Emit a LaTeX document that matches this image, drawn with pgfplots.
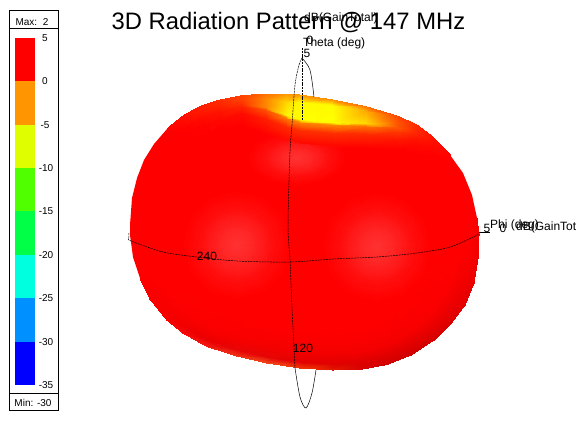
\documentclass[border=0pt]{standalone}
\usepackage{fontspec}
\setmainfont{Liberation Sans}
\usepackage{pgfplots}
\usepackage{pgfplotstable}
\pgfplotsset{compat=1.18}
\definecolor{b1}{HTML}{FF0000}
\definecolor{b2}{HTML}{FF9500}
\definecolor{b3}{HTML}{DFFF00}
\definecolor{b4}{HTML}{50FF00}
\definecolor{b5}{HTML}{00FF46}
\definecolor{b6}{HTML}{00FFDF}
\definecolor{b7}{HTML}{0090FF}
\definecolor{b8}{HTML}{0000FF}
% spot: cos sin ring g
\pgfplotstableread{
c s f g
1 0 0 50
1 0 .33 36
1 0 .66 14
1 0 1 0
.866 .5 0 50
.866 .5 .33 36
.866 .5 .66 14
.866 .5 1 0
.5 .866 0 50
.5 .866 .33 36
.5 .866 .66 14
.5 .866 1 0
0 1 0 50
0 1 .33 36
0 1 .66 14
0 1 1 0
-.5 .866 0 50
-.5 .866 .33 36
-.5 .866 .66 14
-.5 .866 1 0
-.866 .5 0 50
-.866 .5 .33 36
-.866 .5 .66 14
-.866 .5 1 0
-1 0 0 50
-1 0 .33 36
-1 0 .66 14
-1 0 1 0
-.866 -.5 0 50
-.866 -.5 .33 36
-.866 -.5 .66 14
-.866 -.5 1 0
-.5 -.866 0 50
-.5 -.866 .33 36
-.5 -.866 .66 14
-.5 -.866 1 0
0 -1 0 50
0 -1 .33 36
0 -1 .66 14
0 -1 1 0
.5 -.866 0 50
.5 -.866 .33 36
.5 -.866 .66 14
.5 -.866 1 0
.866 -.5 0 50
.866 -.5 .33 36
.866 -.5 .66 14
.866 -.5 1 0
1 0 0 50
1 0 .33 36
1 0 .66 14
1 0 1 0
}\spottable
% rim: outline point, ring fraction, colour
\pgfplotstableread{
px py f r g b
477 218 1 250 0 0
477 218 .955 255 0 0
477 218 .875 255 0 0
477 218 .72 255 0 0
479 235 1 245 0 0
479 235 .955 252 0 0
479 235 .875 255 0 0
479 235 .72 255 0 0
478 258 1 240 0 0
478 258 .955 250 0 0
478 258 .875 255 0 0
478 258 .72 255 0 0
474 283 1 232 0 0
474 283 .955 240 0 0
474 283 .875 252 0 0
474 283 .72 255 0 0
465 305 1 225 0 0
465 305 .955 235 0 0
465 305 .875 250 0 0
465 305 .72 255 0 0
451 323.5 1 218 0 0
451 323.5 .955 230 0 0
451 323.5 .875 250 0 0
451 323.5 .72 255 0 0
434 340 1 212 0 0
434 340 .955 225 0 0
434 340 .875 248 0 0
434 340 .72 255 0 0
411 355 1 208 0 0
411 355 .955 222 0 0
411 355 .875 245 0 0
411 355 .72 255 0 0
387 364.5 1 210 0 0
387 364.5 .955 220 0 0
387 364.5 .875 245 0 0
387 364.5 .72 255 0 0
360 369.5 1 215 5 0
360 369.5 .955 222 0 0
360 369.5 .875 245 0 0
360 369.5 .72 255 0 0
333 370 1 225 25 0
333 370 .955 225 0 0
333 370 .875 245 0 0
333 370 .72 255 0 0
300 368 1 238 55 5
300 368 .955 228 0 0
300 368 .875 245 0 0
300 368 .72 255 0 0
267 363 1 240 70 25
267 363 .955 230 5 5
267 363 .875 245 0 0
267 363 .72 255 0 0
237 356 1 240 50 25
237 356 .955 232 5 5
237 356 .875 248 0 0
237 356 .72 255 0 0
207 346.5 1 240 30 20
207 346.5 .955 235 0 0
207 346.5 .875 250 0 0
207 346.5 .72 255 0 0
183 333 1 245 10 10
183 333 .955 240 0 0
183 333 .875 252 0 0
183 333 .72 255 0 0
167 320 1 250 0 0
167 320 .955 245 0 0
167 320 .875 253 0 0
167 320 .72 255 0 0
150 299 1 252 0 0
150 299 .955 250 0 0
150 299 .875 255 0 0
150 299 .72 255 0 0
140 278 1 255 0 0
140 278 .955 255 0 0
140 278 .875 255 0 0
140 278 .72 255 0 0
}\rimtable
% cap: x y g
\pgfplotstableread{
x y g
167 129 5
167 131 3
167 133 0
167 135 0
167 139 0
167 146 0
183 116 15
183 120 12
183 124 8
183 127 5
183 133 0
183 142 0
200 106.5 30
200 112 25
200 116 18
200 120 10
200 127 3
200 138 0
220 100 45
220 105 38
220 108 30
220 112 20
220 120 8
220 130 0
243 95.5 70
243 100 65
243 103 55
243 107 35
243 114 12
243 126 0
267 94 115
267 99 135
267 108 140
267 111 80
267 120 30
267 133 5
287 94 150
287 103 215
287 116 245
287 119 120
287 128 40
287 140 10
300 95 150
300 103 250
300 120 255
300 123 125
300 131 45
300 143 10
333 100 140
333 106 250
333 123 255
333 126 130
333 134 45
333 146 8
367 107 110
367 112 170
367 124 215
367 127 110
367 135 40
367 147 5
397 116 70
397 122 85
397 128 85
397 132 55
397 140 22
397 150 0
417 125 40
417 129 40
417 134 35
417 138 22
417 145 8
417 155 0
433 137 15
433 140 15
433 144 10
433 148 5
433 154 0
433 162 0
450 155 0
450 157 0
450 160 0
450 163 0
450 168 0
450 175 0
}\captable
\begin{document}
\begin{tikzpicture}
\begin{axis}[scale only axis,width=578pt,height=445pt,xmin=0,xmax=578,ymin=0,ymax=445,y dir=reverse,hide axis,clip=false]
% body
\addplot[fill=red,draw=none] coordinates {(130,225)(132,198)(137,178)(144,160)(154,144)(167,129)(183,116)(200,106.5)(220,100)(243,95.5)(267,94)(287,94)(300,95)(333,100)(367,107)(397,116)(417,125)(433,137)(450,155)(463,173)(472,195)(477,218)(479,235)(478,258)(474,283)(465,305)(451,323.5)(434,340)(411,355)(387,364.5)(360,369.5)(333,370)(300,368)(267,363)(237,356)(207,346.5)(183,333)(167,320)(150,299)(140,278)(133,257)(130,235)} --cycle;
% lighter spots
\addplot[surf,shader=interp,mesh/rows=13,mesh/color input=explicit mathparse,point meta={symbolic={1,\thisrow{g}/255,\thisrow{g}/255}}] table[x expr={237+55*\thisrow{f}*\thisrow{c}},y expr={245+55*\thisrow{f}*\thisrow{s}}] {\spottable};
\addplot[surf,shader=interp,mesh/rows=13,mesh/color input=explicit mathparse,point meta={symbolic={1,\thisrow{g}/255,\thisrow{g}/255}}] table[x expr={377+55*\thisrow{f}*\thisrow{c}},y expr={247+55*\thisrow{f}*\thisrow{s}}] {\spottable};
\addplot[surf,shader=interp,mesh/rows=13,mesh/color input=explicit mathparse,point meta={symbolic={1,\thisrow{g}/255,\thisrow{g}/255}}] table[x expr={297+50*\thisrow{f}*\thisrow{c}},y expr={158+28*\thisrow{f}*\thisrow{s}}] {\spottable};
% lower rim
\addplot[surf,shader=interp,mesh/rows=19,mesh/color input=explicit mathparse,point meta={symbolic={\thisrow{r}/255,\thisrow{g}/255,\thisrow{b}/255}}] table[x expr={305+\thisrow{f}*(\thisrow{px}-305)},y expr={232+\thisrow{f}*(\thisrow{py}-232)}] {\rimtable};
% top cap
\addplot[surf,shader=interp,mesh/rows=14,mesh/color input=explicit mathparse,point meta={symbolic={1,\thisrow{g}/255,0}}] table[x=x,y=y] {\captable};
% phi circle
\addplot[black,smooth,line width=.5pt,dash pattern=on 2pt off .8pt] coordinates {(129,233)(129,238)(131,241)(163,252)(197,257)(237,261)(290,262)(333,259)(377,257)(417,253)(450,247)(477,235)(479,232)};
\addplot[black,line width=.5pt] coordinates {(479,232)(490,232)};
% theta circle
\addplot[black,smooth,line width=.5pt,dash pattern=on 2pt off .8pt] coordinates {(302,58)(299,65)(295,85)(292,125)(290,152)(288,225)(290,260)(292,308)(295,368)};
\addplot[black,line width=.5pt,dash pattern=on 2pt off .8pt] coordinates {(302,48)(302,120)};
\addplot[black,smooth,line width=.5pt] coordinates {(302,58)(310,70)(314,97)};
\addplot[black,smooth,line width=.5pt] coordinates {(295,368)(300,397)(306,408)(312,393)(316,370)};
% colour bar
\addplot[white,fill=white,draw=black,line width=.9pt] coordinates {(9.5,10)(58.5,10)(58.5,410)(9.5,410)} --cycle;
\addplot[black,line width=.9pt] coordinates {(9.5,28)(58.5,28)};
\addplot[black,line width=.9pt] coordinates {(9.5,393)(58.5,393)};
\addplot[fill=b1,draw=none] coordinates {(15,38)(35,38)(35,81)(15,81)} --cycle;
\addplot[fill=b2,draw=none] coordinates {(15,81)(35,81)(35,125)(15,125)} --cycle;
\addplot[fill=b3,draw=none] coordinates {(15,125)(35,125)(35,168)(15,168)} --cycle;
\addplot[fill=b4,draw=none] coordinates {(15,168)(35,168)(35,211)(15,211)} --cycle;
\addplot[fill=b5,draw=none] coordinates {(15,211)(35,211)(35,255)(15,255)} --cycle;
\addplot[fill=b6,draw=none] coordinates {(15,255)(35,255)(35,298)(15,298)} --cycle;
\addplot[fill=b7,draw=none] coordinates {(15,298)(35,298)(35,342)(15,342)} --cycle;
\addplot[fill=b8,draw=none] coordinates {(15,342)(35,342)(35,385)(15,385)} --cycle;
\tikzset{lb/.style={inner sep=0pt,font=\fontsize{10}{11}\selectfont},tx/.style={inner sep=0pt,font=\fontsize{12}{13}\selectfont}}
\node[lb] at (axis cs:45,38) {5};
\node[lb] at (axis cs:45,81) {0};
\node[lb] at (axis cs:45,125) {-5};
\node[lb] at (axis cs:46,168) {-10};
\node[lb] at (axis cs:46,211) {-15};
\node[lb] at (axis cs:46,255) {-20};
\node[lb] at (axis cs:46,298) {-25};
\node[lb] at (axis cs:46,342) {-30};
\node[lb] at (axis cs:46,385) {-35};
\node[lb] at (axis cs:32,22) {Max:\ \ 2};
\node[lb] at (axis cs:33,403) {Min: -30};
\node[inner sep=0pt,font=\fontsize{23.8}{26}\selectfont] at (axis cs:288.5,23) {3D Radiation Pattern @ 147 MHz};
\node[tx,anchor=west] at (axis cs:304,18) {dB(GainTotal)};
\node[tx] at (axis cs:310,40) {0};
\node[tx,anchor=west] at (axis cs:303,43) {Theta (deg)};
\node[tx] at (axis cs:307,53) {5};
\node[tx] at (axis cs:207,256) {240};
\node[tx] at (axis cs:303,348) {120};
\node[tx] at (axis cs:487,228) {5};
\node[tx,anchor=west] at (axis cs:490,225) {Phi (deg)};
\node[tx] at (axis cs:503,228) {0};
\node[tx,anchor=west] at (axis cs:516,227) {dB(GainTot};
\end{axis}
\pgfresetboundingbox
\useasboundingbox (0,0) rectangle (578pt,445pt);
\end{tikzpicture}
\end{document}
